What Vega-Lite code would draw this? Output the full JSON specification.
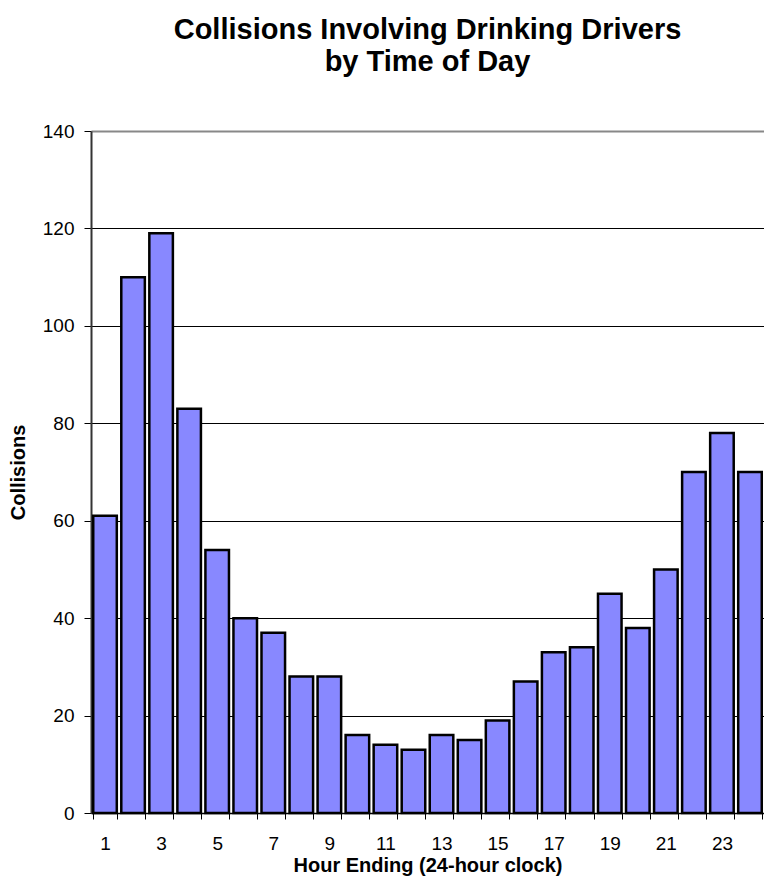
{
  "$schema": "https://vega.github.io/schema/vega-lite/v6.json",
  "width": 673,
  "height": 682,
  "autosize": "none",
  "padding": {"left": 91, "top": 131, "right": 0, "bottom": 69},
  "background": "white",
  "title": {
    "text": ["Collisions Involving Drinking Drivers", "by Time of Day"],
    "font": "Liberation Sans",
    "fontSize": 29,
    "fontWeight": "bold",
    "color": "black",
    "anchor": "middle",
    "lineHeight": 32,
    "offset": 45
  },
  "data": {
    "values": [
      {"hour": 1, "collisions": 61},
      {"hour": 2, "collisions": 110},
      {"hour": 3, "collisions": 119},
      {"hour": 4, "collisions": 83},
      {"hour": 5, "collisions": 54},
      {"hour": 6, "collisions": 40},
      {"hour": 7, "collisions": 37},
      {"hour": 8, "collisions": 28},
      {"hour": 9, "collisions": 28},
      {"hour": 10, "collisions": 16},
      {"hour": 11, "collisions": 14},
      {"hour": 12, "collisions": 13},
      {"hour": 13, "collisions": 16},
      {"hour": 14, "collisions": 15},
      {"hour": 15, "collisions": 19},
      {"hour": 16, "collisions": 27},
      {"hour": 17, "collisions": 33},
      {"hour": 18, "collisions": 34},
      {"hour": 19, "collisions": 45},
      {"hour": 20, "collisions": 38},
      {"hour": 21, "collisions": 50},
      {"hour": 22, "collisions": 70},
      {"hour": 23, "collisions": 78},
      {"hour": 24, "collisions": 70}
    ]
  },
  "mark": {"type": "bar", "fill": "#8888ff", "stroke": "black", "strokeWidth": 2.5},
  "encoding": {
    "x": {
      "field": "hour",
      "type": "ordinal",
      "scale": {"paddingInner": 0.16, "paddingOuter": 0.08},
      "axis": {
        "title": "Hour Ending (24-hour clock)",
        "titleFont": "Liberation Sans",
        "titleFontSize": 20,
        "titleFontWeight": "bold",
        "titleColor": "black",
        "titlePadding": 2,
        "labelExpr": "datum.value % 2 == 1 ? datum.label : ''",
        "labelAngle": 0,
        "labelFont": "Liberation Sans",
        "labelFontSize": 19,
        "labelColor": "black",
        "labelPadding": 15,
        "tickBand": "extent",
        "tickColor": "black",
        "tickSize": 6,
        "domainColor": "black",
        "domainWidth": 1.5
      }
    },
    "y": {
      "field": "collisions",
      "type": "quantitative",
      "scale": {"domain": [0, 140], "nice": false},
      "axis": {
        "title": "Collisions",
        "titleFont": "Liberation Sans",
        "titleFontSize": 20,
        "titleFontWeight": "bold",
        "titleColor": "black",
        "titlePadding": 14,
        "values": [0, 20, 40, 60, 80, 100, 120, 140],
        "labelFont": "Liberation Sans",
        "labelFontSize": 19,
        "labelColor": "black",
        "labelPadding": 10,
        "tickColor": "black",
        "tickSize": 7,
        "domainColor": "#333",
        "domainWidth": 2,
        "grid": true,
        "gridColor": {"condition": {"test": "datum.value == 140", "value": "#888888"}, "value": "black"},
        "gridWidth": {"condition": {"test": "datum.value == 140", "value": 2}, "value": 1}
      }
    }
  },
  "config": {"view": {"stroke": null}}
}
